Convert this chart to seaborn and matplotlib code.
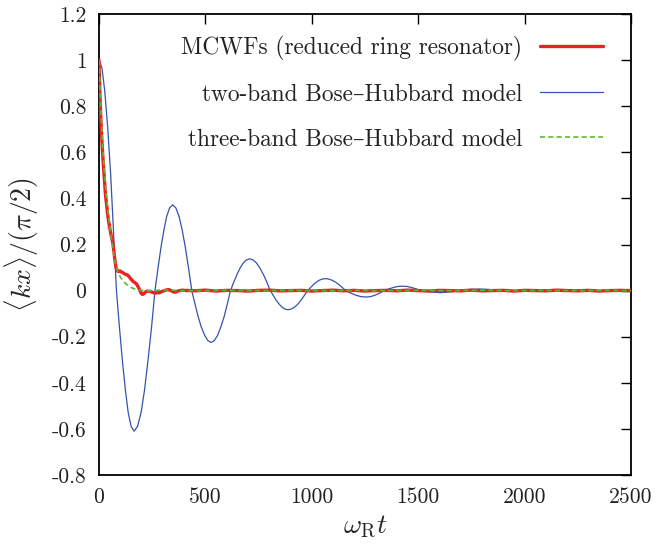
import matplotlib
matplotlib.use("Agg")
import matplotlib.pyplot as plt
import seaborn as sns
import pandas as pd

# ---------------- data ----------------
blue_t = [0, 14, 27, 41, 55, 68, 82,
          96, 110, 124, 137, 151, 165,
          181, 198, 214, 230, 247, 263,
          277, 291, 305, 318, 332, 346,
          361, 376, 391, 406, 421, 436,
          451, 466, 481, 497, 512, 527,
          542, 557, 572, 588, 603, 618,
          633, 648, 663, 678, 693, 708,
          724, 740, 756, 773, 789, 805,
          819, 833, 847, 860, 874, 888,
          903, 919, 934, 949, 965, 980,
          994, 1008, 1022, 1035, 1049, 1063,
          1079, 1095, 1111, 1128, 1144, 1160,
          1184, 1207, 1231, 1255, 1276, 1297, 1319, 1340, 1361, 1382,
          1404, 1425, 1447, 1470, 1492, 1515, 1560, 1604, 1650, 1700, 1745, 1790, 1835, 1880,
          1920, 1960, 2005, 2050, 2095, 2140, 2185, 2230, 2275, 2320, 2365, 2410, 2455, 2500]
blue_v = [1.0, 0.966, 0.866, 0.707, 0.5, 0.259, 0.0,
          -0.158, -0.305, -0.431, -0.528, -0.589, -0.61,
          -0.589, -0.528, -0.431, -0.305, -0.158, 0.0,
          0.096, 0.186, 0.263, 0.322, 0.359, 0.372,
          0.359, 0.322, 0.263, 0.186, 0.096, 0.0,
          -0.058, -0.113, -0.159, -0.195, -0.217, -0.225,
          -0.217, -0.195, -0.159, -0.113, -0.058, 0.0,
          0.036, 0.069, 0.098, 0.120, 0.133, 0.138,
          0.133, 0.120, 0.098, 0.069, 0.036, 0.0,
          -0.021, -0.042, -0.059, -0.072, -0.080, -0.083,
          -0.080, -0.072, -0.059, -0.042, -0.021, 0.0,
          0.013, 0.026, 0.037, 0.045, 0.050, 0.052,
          0.050, 0.045, 0.037, 0.026, 0.013, 0.0,
          -0.011, -0.020, -0.026, -0.028, -0.026, -0.020,
          -0.011, 0.0, 0.007, 0.013, 0.018, 0.019, 0.018, 0.013, 0.007, 0.0, -0.006, -0.009,
          -0.006, 0.0, 0.005, 0.007, 0.005, 0.0, -0.002, -0.003, -0.002, 0.0, 0.003, 0.004,
          0.003, 0.0, -0.001, -0.002, -0.001, 0.0, 0.001, 0.002]

mcwf_t = [0, 4, 8, 12, 16, 20, 24, 30, 36, 42, 47, 53, 58, 62, 66, 70, 75, 80, 86, 94, 100,
          106, 112, 118, 125, 132, 140, 150, 160, 168, 175, 182, 190, 197, 204, 212, 220, 228,
          236, 244, 252, 260, 268, 276, 283, 290, 298, 306, 314, 322, 330, 338, 346, 354, 362,
          370, 380, 390, 400, 450, 500, 550, 600, 650, 700, 750, 800, 850, 900, 950, 1000,
          1050, 1100, 1150, 1200, 1250, 1300, 1350, 1400, 1450, 1500, 1550, 1600, 1650, 1700,
          1750, 1800, 1850, 1900, 1950, 2000, 2050, 2100, 2150, 2200, 2250, 2300, 2350, 2400,
          2450, 2500]
mcwf_v = [1.0, 0.86, 0.76, 0.68, 0.61, 0.55, 0.5, 0.42, 0.37, 0.32, 0.29, 0.26, 0.235, 0.22,
          0.2, 0.17, 0.13, 0.1, 0.085, 0.083, 0.085, 0.08, 0.078, 0.074, 0.07, 0.069, 0.062,
          0.05, 0.04, 0.035, 0.03, 0.02, 0.005, -0.01, -0.017, -0.012, -0.005, -0.002, -0.003,
          -0.004, -0.008, -0.01, -0.01, -0.008, -0.01, -0.006, -0.003, 0.0, 0.002, 0.004, 0.004,
          0.0, -0.004, -0.007, -0.006, -0.002, 0.0, 0.002, 0.001,
          -0.001, 0.002, -0.002, 0.001, 0.0, -0.002, 0.001, 0.002, -0.001, 0.0, 0.001, -0.002,
          0.0, 0.002, -0.001, 0.001, -0.002, 0.0, 0.001, -0.001, 0.002, 0.0, -0.002, 0.001, 0.0,
          -0.001, 0.002, -0.001, 0.0, 0.001, -0.002, 0.001, 0.0, -0.001, 0.002, 0.0, -0.001,
          0.001, -0.002, 0.0, 0.001, 0.0]

three_t = [0, 8, 16, 24, 32, 40, 48, 56, 64, 72, 80, 90, 100, 110, 120, 135, 150, 165, 180,
           200, 230, 260, 300, 340, 380, 420, 500, 600, 700, 800, 900, 1000, 1100, 1200, 1300,
           1400, 1500, 1600, 1700, 1800, 1900, 2000, 2100, 2200, 2300, 2400, 2500]
three_v = [1.0, 0.8, 0.64, 0.53, 0.44, 0.36, 0.3, 0.24, 0.19, 0.14, 0.105, 0.08, 0.06, 0.045,
           0.035, 0.022, 0.014, 0.008, 0.004, 0.001, -0.001, 0.0, 0.003, 0.002, 0.0, -0.001,
           0.0, 0.001, 0.0, 0.0, 0.001, 0.0, 0.0, 0.001, 0.0, 0.0, 0.001, 0.0, 0.0, 0.002, 0.0,
           0.0, 0.001, 0.0, 0.0, 0.001, 0.0]

labels = ["MCWFs (reduced ring resonator)",
          "two-band Bose–Hubbard model",
          "three-band Bose–Hubbard model"]
x_ticks = [0, 500, 1000, 1500, 2000, 2500]
x_ticklabels = ["0", "500", "1000", "1500", "2000", "2500"]
y_ticks = [-0.8, -0.6, -0.4, -0.2, 0, 0.2, 0.4, 0.6, 0.8, 1.0, 1.2]
y_ticklabels = ["-0.8", "-0.6", "-0.4", "-0.2", "0", "0.2", "0.4", "0.6", "0.8", "1", "1.2"]

assert len(blue_t) == len(blue_v)
assert len(mcwf_t) == len(mcwf_v)
assert len(three_t) == len(three_v)

# ---------------- style ----------------
sns.set_style("white")
plt.rcParams["font.family"] = ["cmr10", "DejaVu Serif"]
plt.rcParams["mathtext.fontset"] = "cm"
plt.rcParams["axes.unicode_minus"] = False
plt.rcParams["axes.formatter.use_mathtext"] = True

RED = "#ee2020"
BLUE = "#3353b0"
GREEN = "#5cb832"

fig = plt.figure(figsize=(6.59, 5.5), dpi=100)
ax = fig.add_axes([99 / 659, 75 / 550, 532 / 659, 461 / 550])

df_blue = pd.DataFrame({"t": blue_t, "v": blue_v})
df_red = pd.DataFrame({"t": mcwf_t, "v": mcwf_v})
df_green = pd.DataFrame({"t": three_t, "v": three_v})

sns.lineplot(data=df_blue, x="t", y="v", ax=ax, color=BLUE, lw=0.9,
             sort=False, estimator=None, label=labels[1], zorder=2)
sns.lineplot(data=df_red, x="t", y="v", ax=ax, color=RED, lw=2.4,
             sort=False, estimator=None, label=labels[0], zorder=3)
sns.lineplot(data=df_green, x="t", y="v", ax=ax, color=GREEN, lw=1.2,
             sort=False, estimator=None, label=labels[2], zorder=4,
             dashes=False)
ax.lines[-1].set_dashes([3, 2])

ax.set_xlim(0, 2500)
ax.set_ylim(-0.8, 1.2)
ax.set_xticks(x_ticks)
ax.set_xticklabels(x_ticklabels)
ax.set_yticks(y_ticks)
ax.set_yticklabels(y_ticklabels)
ax.tick_params(direction="in", top=True, right=True, length=7, width=1.0,
               labelsize=15.5, pad=9, color="black", labelcolor="#222222")
for s in ax.spines.values():
    s.set_linewidth(1.3)
    s.set_color("black")

ax.set_xlabel(r"$\omega_{\mathrm{R}}t$", fontsize=20, va="center")
ax.xaxis.set_label_coords(0.5, (475 - 527) / 461)
ax.set_ylabel(r"$\langle kx\rangle/(\pi/2)$", fontsize=20, va="center", ha="center")
ax.yaxis.set_label_coords((22 - 99) / 532, 0.5)

handles, labs = ax.get_legend_handles_labels()
order = [labs.index(l) for l in labels]
leg = ax.legend([handles[i] for i in order], [labs[i] for i in order],
                loc="upper right", bbox_to_anchor=(0.947, 0.9535),
                frameon=False, markerfirst=False, fontsize=16.8,
                handlelength=2.7, handletextpad=0.75, labelspacing=0.98,
                borderpad=0, borderaxespad=0)
for t in leg.get_texts():
    t.set_color("#222222")

fig.savefig("out.png", dpi=100)
